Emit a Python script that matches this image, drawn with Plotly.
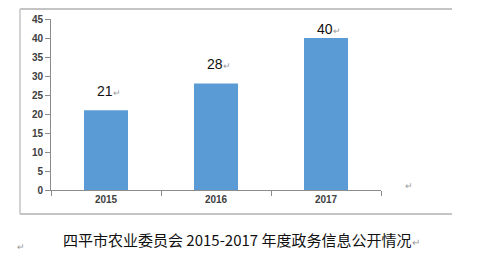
import plotly.graph_objects as go

years = ["2015", "2016", "2017"]
counts = [21, 28, 40]
caption = "四平市农业委员会 2015-2017 年度政务信息公开情况"

label_shift = [19, 20, 9]

W, H = 500, 254
L, R, T, B = 51, 381, 19, 190


def px(x):
    return (x - L) / (R - L)


def py(y):
    return (B - y) / (B - T)


fig = go.Figure(go.Bar(
    x=years, y=counts, width=0.4,
    marker=dict(color="#5B9BD5", line=dict(width=0)),
    hoverinfo="skip",
))

annos = []
for i, (v, s) in enumerate(zip(counts, label_shift)):
    annos.append(dict(
        x=i, y=v, xref="x", yref="y", yanchor="middle", xanchor="center",
        yshift=s, xshift=3, showarrow=False,
        text=f"{v}<span style='color:#9a9a9a;font-size:9px'>↵</span>",
        font=dict(family="Liberation Sans, Arial", size=14, color="#111111"),
    ))

annos.append(dict(
    x=px(242), y=py(240), xref="paper", yref="paper", xanchor="center", yanchor="middle",
    showarrow=False,
    text=caption + "<span style='color:#9a9a9a;font-size:10px'>↵</span>",
    font=dict(family="Noto Sans CJK SC", size=15, color="#111111"),
))
annos.append(dict(x=px(409), y=py(185), xref="paper", yref="paper", showarrow=False,
                  xanchor="center", yanchor="middle",
                  text="↵", font=dict(size=9, color="#9a9a9a")))
annos.append(dict(x=px(21), y=py(246), xref="paper", yref="paper", showarrow=False,
                  xanchor="center", yanchor="middle",
                  text="↵", font=dict(size=9, color="#9a9a9a")))

frame_col = "#c4c4c4"
shapes = [
    dict(type="line", xref="paper", yref="paper", x0=px(20), x1=px(452), y0=py(9), y1=py(9),
         line=dict(color=frame_col, width=2)),
    dict(type="line", xref="paper", yref="paper", x0=px(20), x1=px(452), y0=py(214), y1=py(214),
         line=dict(color=frame_col, width=2)),
    dict(type="line", xref="paper", yref="paper", x0=px(20), x1=px(20), y0=py(9), y1=py(214),
         line=dict(color=frame_col, width=1.5)),
]

tick_font = dict(family="Liberation Sans, Arial", size=10, color="#404040", weight="bold")

fig.update_layout(
    width=W, height=H,
    margin=dict(l=L, r=W - R, t=T, b=H - B, pad=0),
    paper_bgcolor="white", plot_bgcolor="white",
    showlegend=False,
    annotations=annos, shapes=shapes,
    xaxis=dict(
        type="category", range=[-0.5, 2.5], showgrid=False, zeroline=False,
        showline=True, linecolor="#8c8c8c", linewidth=1,
        ticks="outside", tickson="boundaries", ticklen=5, tickcolor="#8c8c8c",
        tickfont=tick_font, fixedrange=True,
    ),
    yaxis=dict(
        range=[0, 45], dtick=5, showgrid=False, zeroline=False,
        showline=True, linecolor="#8c8c8c", linewidth=1,
        ticks="outside", ticklen=5, tickcolor="#8c8c8c",
        tickfont=tick_font, fixedrange=True,
    ),
)

fig.write_html("out.html")
